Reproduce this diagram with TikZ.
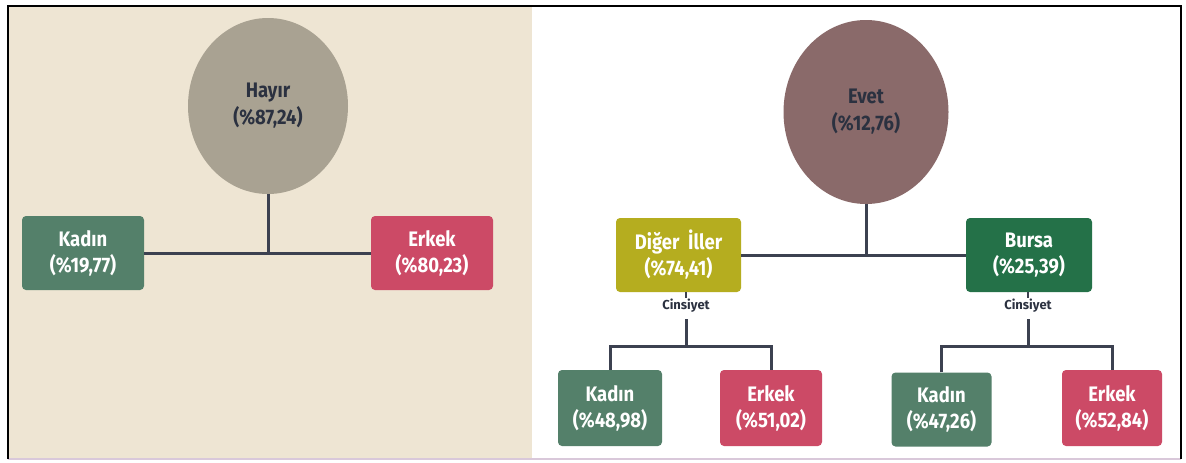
\documentclass[tikz,border=0pt]{standalone}
\usepackage{fontspec}
\setmainfont{Fira Sans}
\usetikzlibrary{shapes.geometric}
\definecolor{beige}{HTML}{EEE5D3}
\definecolor{hayirc}{HTML}{A9A292}
\definecolor{evetc}{HTML}{8A6A6A}
\definecolor{kadinc}{HTML}{54806A}
\definecolor{erkekc}{HTML}{CC4A66}
\definecolor{olivec}{HTML}{B5AD1F}
\definecolor{bursac}{HTML}{247148}
\definecolor{linec}{HTML}{3C4150}
\definecolor{darktext}{HTML}{2B3140}
\definecolor{bottomc}{HTML}{D9C8DA}
\newcommand\cnd[1]{\scalebox{0.88}[1]{#1}}
\tikzset{
  boxnode/.style={rectangle, rounded corners=4pt, text=white, align=center,
    font=\fontsize{21}{26}\selectfont\bfseries, inner sep=0pt},
  ellnode/.style={ellipse, text=darktext, align=center, inner sep=0pt,
    font=\fontsize{21}{27}\selectfont\bfseries},
  conn/.style={draw=linec, line width=3pt},
  cinlabel/.style={text=darktext, inner sep=1.5pt,
    font=\fontsize{13}{14}\selectfont\bfseries}
}
\begin{document}
\begin{tikzpicture}[x=1pt,y=-1pt]
\useasboundingbox (0,0) rectangle (1186,463);
\fill[white] (0,0) rectangle (1186,463);
\fill[beige] (8,6) rectangle (532,459);
% frame
\draw[bottomc, line width=1.5pt] (8,459) -- (1181,459);
\draw[black, line width=2.4pt] (8,459) -- (8,6) -- (1181,6) -- (1181,459);

% left tree
\node[ellnode, fill=hayirc, minimum width=160, minimum height=176] (hayir) at (268,106) {\cnd{Hayır}\\\cnd{(\%87,24)}};
\node[boxnode, fill=kadinc, minimum width=122, minimum height=74] (lk) at (83,253) {\cnd{Kadın}\\\cnd{(\%19,77)}};
\node[boxnode, fill=erkekc, minimum width=122, minimum height=74] (le) at (432,253) {\cnd{Erkek}\\\cnd{(\%80,23)}};
\draw[conn] (lk.east) -- (le.west);
\draw[conn] (hayir.south) -- (hayir.south |- lk.east);

% right tree
\node[ellnode, fill=evetc, minimum width=165, minimum height=184] (evet) at (866,112) {\cnd{Evet}\\\cnd{(\%12,76)}};
\node[boxnode, fill=olivec, minimum width=125, minimum height=74] (dig) at (678.5,255) {\cnd{Diğer\ \ İller}\\\cnd{(\%74,41)}};
\node[boxnode, fill=bursac, minimum width=126, minimum height=74] (bur) at (1029,255) {\cnd{Bursa}\\\cnd{(\%25,39)}};
\draw[conn] (dig.east) -- (bur.west);
\draw[conn] (evet.south) -- (evet.south |- dig.east);

\node[cinlabel] (cin1) at (686,306) {Cinsiyet};
\node[cinlabel] (cin2) at (1028,306) {Cinsiyet};
\coordinate (j1) at (686,346);
\coordinate (j2) at (1028,346);

\node[boxnode, fill=kadinc, minimum width=104, minimum height=76] (k1) at (610,408) {\cnd{Kadın}\\\cnd{(\%48,98)}};
\node[boxnode, fill=erkekc, minimum width=102, minimum height=76] (e1) at (771,408) {\cnd{Erkek}\\\cnd{(\%51,02)}};
\node[boxnode, fill=kadinc, minimum width=100, minimum height=74] (k2) at (941.5,409.5) {\cnd{Kadın}\\\cnd{(\%47,26)}};
\node[boxnode, fill=erkekc, minimum width=100, minimum height=76] (e2) at (1112,408) {\cnd{Erkek}\\\cnd{(\%52,84)}};

\draw[conn, line width=1.6pt] (dig.south -| cin1) -- (cin1.north);
\draw[conn, line width=1.6pt] (bur.south -| cin2) -- (cin2.north);
\draw[conn] (cin1.south) ++(0,5) -- (j1);
\draw[conn] (cin2.south) ++(0,5) -- (j2);
\draw[conn] (k1.north) |- (j1) -| (e1.north);
\draw[conn] (k2.north) |- (j2) -| (e2.north);
\end{tikzpicture}
\end{document}
